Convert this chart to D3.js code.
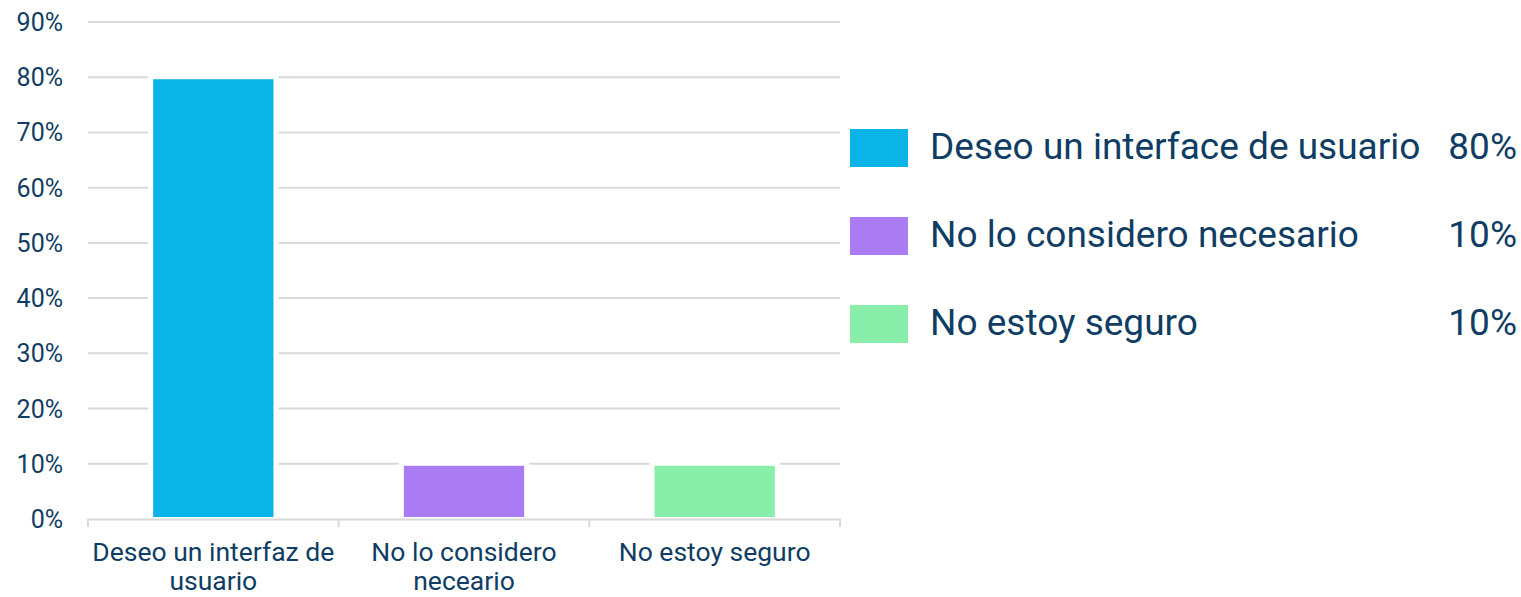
<!DOCTYPE html>
<html lang="es">
<head>
<meta charset="UTF-8">
<title>Interfaz de usuario</title>
<script src="https://cdnjs.cloudflare.com/ajax/libs/d3/7.8.5/d3.min.js"></script>
<style>
    body { margin: 0; background: #fff; font-family: Roboto, Arial, sans-serif; }
    .tick-label { fill: #0f3d63; font-size: 25px; }
    .cat-label { fill: #0f3d63; font-size: 26.5px; }
    .legend-text { fill: #0f3d63; font-size: 37px; }
</style>
</head>
<body>
<div id="chart"></div>
<script>
    // data
    const categories = ["Deseo un interfaz de usuario", "No lo considero neceario", "No estoy seguro"];
    const legendLabels = ["Deseo un interface de usuario", "No lo considero necesario", "No estoy seguro"];
    const values = [0.8, 0.1, 0.1];
    const colors = ["#0bb4e7", "#a97cf3", "#88eeaa"];
    const yTicks = [0, 0.1, 0.2, 0.3, 0.4, 0.5, 0.6, 0.7, 0.8, 0.9];

    const W = 1521, H = 597;
    const plot = {left: 88, right: 840, top: 22, bottom: 519};

    const svg = d3.select("#chart").append("svg")
        .attr("width", W).attr("height", H);

    const x = d3.scaleBand()
        .domain(categories)
        .range([plot.left, plot.right])
        .paddingInner(0.52)
        .paddingOuter(0.26);

    const y = d3.scaleLinear()
        .domain([0, 0.9])
        .range([plot.bottom, plot.top]);

    const fmt = d3.format(".0%");

    // gridlines
    svg.append("g")
        .selectAll("line")
        .data(yTicks.slice(1))
        .enter().append("line")
        .attr("x1", plot.left).attr("x2", plot.right)
        .attr("y1", d => y(d)).attr("y2", d => y(d))
        .attr("stroke", "#d9d9d9")
        .attr("stroke-width", 2);

    // y labels
    svg.append("g")
        .selectAll("text")
        .data(yTicks)
        .enter().append("text")
        .attr("class", "tick-label")
        .attr("x", 63)
        .attr("y", d => y(d))
        .attr("dy", "0.36em")
        .attr("text-anchor", "end")
        .text(d => fmt(d));

    // bars with white outline knocking out the gridlines
    const rows = categories.map((c, i) => ({cat: c, value: values[i], color: colors[i]}));

    svg.append("g")
        .selectAll("rect")
        .data(rows)
        .enter().append("rect")
        .attr("x", d => x(d.cat) - 5)
        .attr("width", x.bandwidth() + 10)
        .attr("y", d => y(d.value) - 2)
        .attr("height", d => y(0) - y(d.value))
        .attr("fill", "#fff");

    svg.append("g")
        .selectAll("rect")
        .data(rows)
        .enter().append("rect")
        .attr("x", d => x(d.cat))
        .attr("width", x.bandwidth())
        .attr("y", d => y(d.value) + 2)
        .attr("height", d => y(0) - y(d.value) - 4)
        .attr("fill", d => d.color);

    // x axis
    const xAxis = svg.append("g")
        .attr("transform", `translate(0,${plot.bottom})`)
        .call(d3.axisBottom(x).tickSize(0).tickFormat(""));
    xAxis.select(".domain").attr("stroke", "#d9d9d9").attr("stroke-width", 2);

    const step = x.step();
    const edges = d3.range(categories.length + 1).map(i => plot.left + i * step);
    svg.append("g")
        .selectAll("line")
        .data(edges)
        .enter().append("line")
        .attr("x1", d => d).attr("x2", d => d)
        .attr("y1", plot.bottom).attr("y2", plot.bottom + 8)
        .attr("stroke", "#d9d9d9")
        .attr("stroke-width", 2);

    // category labels, wrapped
    function wrapWords(label, maxW, measure) {
        const words = label.split(" ");
        const lines = [];
        let cur = "";
        words.forEach(w => {
            const t = cur ? cur + " " + w : w;
            if (measure(t) > maxW && cur) { lines.push(cur); cur = w; }
            else cur = t;
        });
        lines.push(cur);
        return lines;
    }

    const probe = svg.append("text").attr("class", "cat-label");
    const measure = s => { probe.text(s); return probe.node().getComputedTextLength(); };

    categories.forEach(c => {
        const lines = wrapWords(c, step - 2, measure);
        const t = svg.append("text")
            .attr("class", "cat-label")
            .attr("text-anchor", "middle")
            .attr("x", x(c) + x.bandwidth() / 2)
            .attr("y", 561);
        lines.forEach((l, i) => {
            t.append("tspan")
                .attr("x", x(c) + x.bandwidth() / 2)
                .attr("y", 561 + i * 29)
                .text(l);
        });
    });
    probe.remove();

    // legend
    const legendY = d3.scalePoint()
        .domain(legendLabels)
        .range([148, 324]);

    const lg = svg.append("g");
    legendLabels.forEach((lab, i) => {
        const cy = legendY(lab);
        lg.append("rect")
            .attr("x", 850).attr("y", cy - 19)
            .attr("width", 58).attr("height", 38)
            .attr("fill", colors[i]);
        lg.append("text")
            .attr("class", "legend-text")
            .attr("x", 930).attr("y", cy - 2)
            .attr("dy", "0.36em")
            .text(lab);
        lg.append("text")
            .attr("class", "legend-text")
            .attr("x", 1517).attr("y", cy - 2)
            .attr("dy", "0.36em")
            .attr("text-anchor", "end")
            .text(fmt(values[i]));
    });
</script>
</body>
</html>
